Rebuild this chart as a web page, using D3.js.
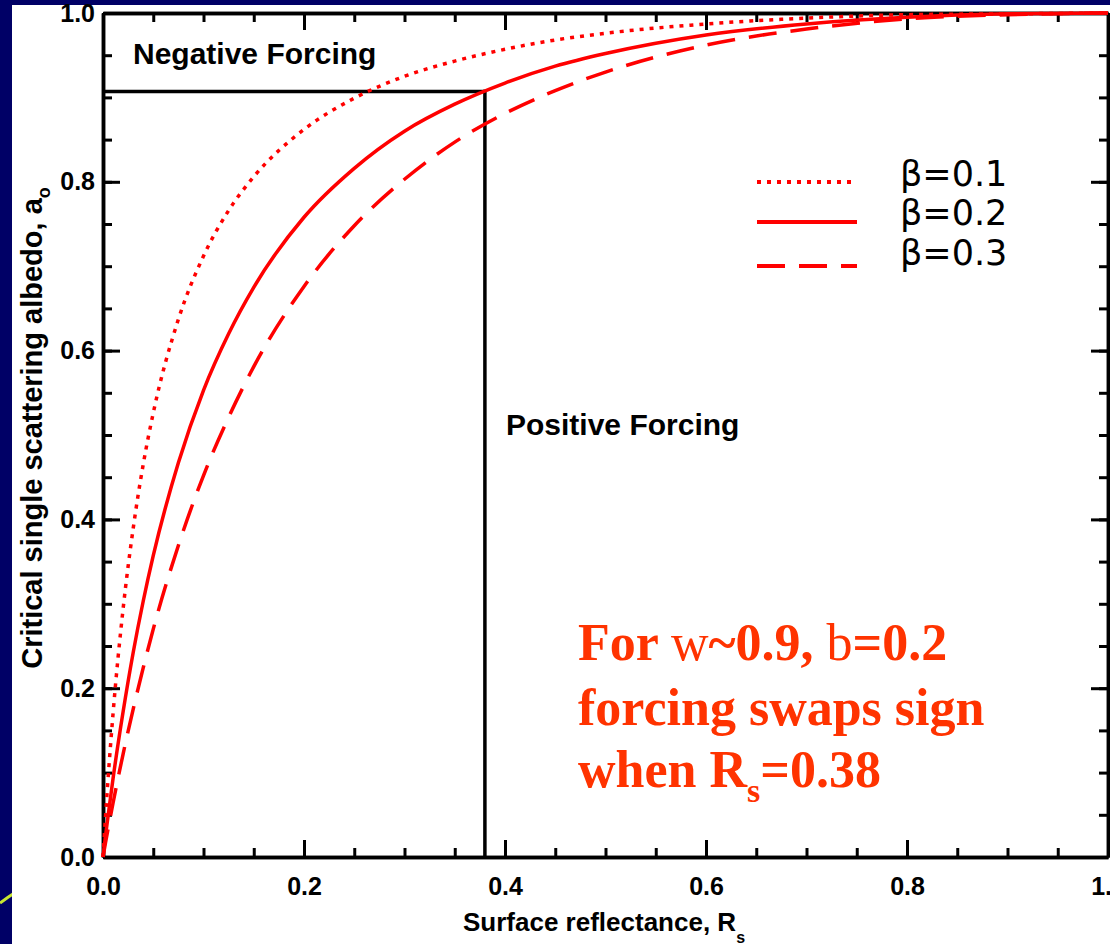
<!DOCTYPE html>
<html>
<head>
<meta charset="utf-8">
<script src="https://cdnjs.cloudflare.com/ajax/libs/d3/7.8.5/d3.min.js"></script>
<style>
  body { margin: 0; background: #000066; }
  svg { display: block; }
  .axis path, .axis line { stroke: #000; }
  .axis text { font-family: "Liberation Sans", Arial, sans-serif; font-weight: bold; font-size: 25px; fill: #000; }
  .lbl { font-family: "Liberation Sans", Arial, sans-serif; font-weight: bold; fill: #000; }
</style>
</head>
<body>
<div id="chart"></div>
<script>
// surface reflectance R_s (x) and critical single scattering albedo (y)
var reflectance = [0, 0.0025, 0.005, 0.01, 0.02, 0.03, 0.04, 0.05, 0.075, 0.1, 0.125, 0.15, 0.2, 0.25, 0.3, 0.35, 0.4, 0.45, 0.5, 0.6, 0.7, 0.8, 0.9, 1.0];
var albedoBeta1 = [0, 0.048, 0.092, 0.170, 0.294, 0.389, 0.465, 0.526, 0.637, 0.712, 0.766, 0.806, 0.862, 0.899, 0.925, 0.943, 0.957, 0.968, 0.976, 0.987, 0.994, 0.998, 0.999, 1.0];
var albedoBeta2 = [0, 0.025, 0.048, 0.093, 0.172, 0.242, 0.303, 0.357, 0.467, 0.553, 0.620, 0.675, 0.758, 0.816, 0.860, 0.892, 0.917, 0.937, 0.952, 0.974, 0.987, 0.995, 0.999, 1.0];
var albedoBeta3 = [0, 0.017, 0.033, 0.064, 0.122, 0.175, 0.224, 0.270, 0.369, 0.452, 0.521, 0.581, 0.676, 0.748, 0.803, 0.847, 0.881, 0.908, 0.930, 0.962, 0.981, 0.993, 0.998, 1.0];
var seriesNames = ["\u03b2=0.1", "\u03b2=0.2", "\u03b2=0.3"];
var majorTicks = [0, 0.2, 0.4, 0.6, 0.8, 1.0];
var minorTicks = d3.range(0, 1.0001, 0.05);
var crossR = 0.38, crossAlbedo = 0.907;

var W = 1110, H = 944;
var svg = d3.select("#chart").append("svg").attr("width", W).attr("height", H);

// slide background: navy with white panel
svg.append("rect").attr("width", W).attr("height", H).attr("fill", "#000066");
svg.append("path").attr("d", "M0,903 Q8,897 16,892").attr("stroke", "#c8e632").attr("stroke-width", 3).attr("fill", "none");
svg.append("rect").attr("x", 12).attr("y", 5).attr("width", W - 12).attr("height", H - 5).attr("fill", "#fff");

var x = d3.scaleLinear().domain([0, 1]).range([103, 1108]);
var y = d3.scaleLinear().domain([0, 1]).range([857, 13]);

function styleAxis(g) {
  g.select(".domain").attr("stroke-width", 3.5);
  g.selectAll(".tick line").attr("stroke-width", 3);
}

// minor ticks first, then major with labels
svg.append("g").attr("class", "axis").attr("transform", "translate(0," + y(0) + ")")
  .call(d3.axisBottom(x).tickValues(minorTicks).tickSize(-9).tickSizeOuter(0).tickFormat(""))
  .call(styleAxis);
svg.append("g").attr("class", "axis").attr("transform", "translate(0," + y(0) + ")")
  .call(d3.axisBottom(x).tickValues(majorTicks).tickSize(-17).tickSizeOuter(0).tickPadding(20).tickFormat(d3.format(".1f")))
  .call(styleAxis);
svg.append("g").attr("class", "axis").attr("transform", "translate(0," + y(1) + ")")
  .call(d3.axisTop(x).tickValues(minorTicks).tickSize(-9).tickSizeOuter(0).tickFormat(""))
  .call(styleAxis);
svg.append("g").attr("class", "axis").attr("transform", "translate(0," + y(1) + ")")
  .call(d3.axisTop(x).tickValues(majorTicks).tickSize(-17).tickSizeOuter(0).tickFormat(""))
  .call(styleAxis);
svg.append("g").attr("class", "axis").attr("transform", "translate(" + x(0) + ",0)")
  .call(d3.axisLeft(y).tickValues(minorTicks).tickSize(-9).tickSizeOuter(0).tickFormat(""))
  .call(styleAxis);
svg.append("g").attr("class", "axis").attr("transform", "translate(" + x(0) + ",0)")
  .call(d3.axisLeft(y).tickValues(majorTicks).tickSize(-17).tickSizeOuter(0).tickPadding(8).tickFormat(d3.format(".1f")))
  .call(styleAxis);
svg.append("g").attr("class", "axis").attr("transform", "translate(" + x(1) + ",0)")
  .call(d3.axisRight(y).tickValues(minorTicks).tickSize(-9).tickSizeOuter(0).tickFormat(""))
  .call(styleAxis);
svg.append("g").attr("class", "axis").attr("transform", "translate(" + x(1) + ",0)")
  .call(d3.axisRight(y).tickValues(majorTicks).tickSize(-17).tickSizeOuter(0).tickFormat(""))
  .call(styleAxis);

// threshold box
svg.append("line").attr("x1", x(0)).attr("x2", x(crossR)).attr("y1", y(crossAlbedo)).attr("y2", y(crossAlbedo))
  .attr("stroke", "#000").attr("stroke-width", 3.5);
svg.append("line").attr("x1", x(crossR)).attr("x2", x(crossR)).attr("y1", y(crossAlbedo) - 1.75).attr("y2", y(0))
  .attr("stroke", "#000").attr("stroke-width", 3.5);

// curves
var dashes = ["4,6", null, "28,14"];
var line = d3.line().x(function (d) { return x(d[0]); }).y(function (d) { return y(d[1]); }).curve(d3.curveMonotoneX);
[albedoBeta1, albedoBeta2, albedoBeta3].forEach(function (vals, i) {
  svg.append("path")
    .datum(reflectance.map(function (r, j) { return [r, vals[j]]; }))
    .attr("d", line)
    .attr("fill", "none")
    .attr("stroke", "#ff0000")
    .attr("stroke-width", 3.5)
    .attr("stroke-dasharray", dashes[i]);
});

// legend
var legY = [182, 222, 266];
var legTextY = [186, 225, 265];
seriesNames.forEach(function (name, i) {
  svg.append("line").attr("x1", 757).attr("x2", 857).attr("y1", legY[i]).attr("y2", legY[i])
    .attr("stroke", "#ff0000").attr("stroke-width", 4).attr("stroke-dasharray", dashes[i]);
  svg.append("text").attr("x", 900).attr("y", legTextY[i])
    .style("font-family", "DejaVu Sans, sans-serif").style("font-size", "35px").attr("fill", "#000")
    .text(name);
});

// region labels
svg.append("text").attr("class", "lbl").attr("x", 133).attr("y", 64).style("font-size", "30px").text("Negative Forcing");
svg.append("text").attr("class", "lbl").attr("x", 506).attr("y", 435).style("font-size", "30px").text("Positive Forcing");

// axis titles
var xt = svg.append("text").attr("class", "lbl").attr("x", 463).attr("y", 931).style("font-size", "26px");
xt.append("tspan").text("Surface reflectance, R");
xt.append("tspan").attr("dy", 12).style("font-size", "16px").text("s");

var yt = svg.append("text").attr("class", "lbl").attr("transform", "translate(42,428) rotate(-90)")
  .attr("text-anchor", "middle").style("font-size", "29px");
yt.append("tspan").text("Critical single scattering albedo, a");
yt.append("tspan").attr("dy", 8).style("font-size", "18px").text("o");

// annotation
var note = svg.append("g").style("font-family", "Liberation Serif, Times New Roman, serif")
  .style("font-size", "52px").style("font-weight", "bold").attr("fill", "#ff3300");
var l1 = note.append("text").attr("x", 578).attr("y", 660);
l1.append("tspan").text("For ");
l1.append("tspan").style("font-weight", "normal").text("w");
l1.append("tspan").text("~0.9, ");
l1.append("tspan").style("font-weight", "normal").text("b");
l1.append("tspan").text("=0.2");
note.append("text").attr("x", 578).attr("y", 725).text("forcing swaps sign");
var l3 = note.append("text").attr("x", 578).attr("y", 787);
l3.append("tspan").text("when R");
l3.append("tspan").attr("dy", 15).style("font-size", "34px").text("s");
l3.append("tspan").attr("dy", -15).text("=0.38");
</script>
</body>
</html>
